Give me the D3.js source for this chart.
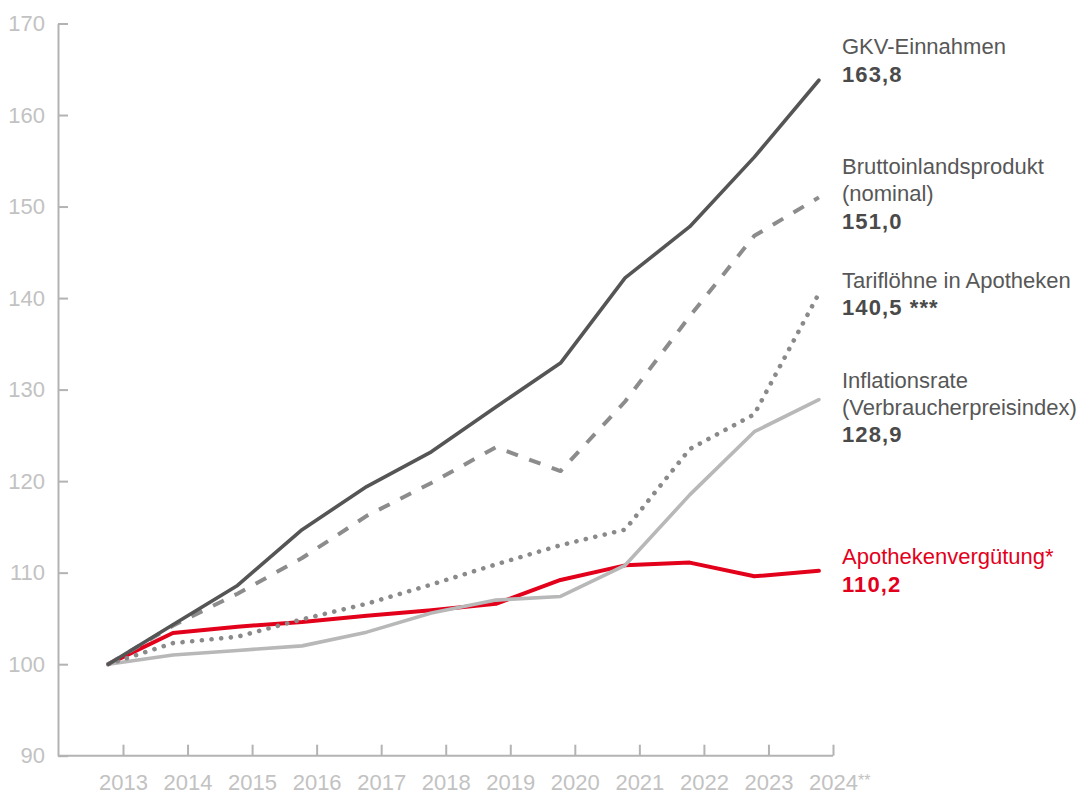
<!DOCTYPE html>
<html lang="de">
<head>
<meta charset="utf-8">
<title>Entwicklung im Vergleich 2013–2024 (Index 2013 = 100)</title>
<script src="https://cdn.jsdelivr.net/npm/d3@7/dist/d3.min.js"></script>
<style>
  html, body { margin: 0; padding: 0; background: #ffffff; }
  svg { display: block; font-family: "Liberation Sans", Arial, Helvetica, sans-serif; }
</style>
</head>
<body>
<svg id="chart" width="1083" height="795"></svg>
<script>
// Jahre und Beschriftungen der x-Achse
const years = [2013, 2014, 2015, 2016, 2017, 2018, 2019, 2020, 2021, 2022, 2023, 2024];
const yearNotes = ["", "", "", "", "", "", "", "", "", "", "", "**"];
const yTicks = [90, 100, 110, 120, 130, 140, 150, 160, 170];

// Indexwerte (2013 = 100)
const gkvEinnahmen   = [100, 104.3, 108.6, 114.7, 119.4, 123.2, 128.1, 132.9, 142.2, 147.8, 155.4, 163.8];
const bip            = [100, 104.2, 107.7, 111.6, 116.2, 119.8, 123.7, 121.1, 128.7, 138.0, 146.8, 151.0];
const tarifloehne    = [100, 102.3, 103.0, 104.9, 106.6, 108.7, 110.9, 113.0, 114.7, 123.5, 127.3, 140.5];
const inflation      = [100, 101.0, 101.5, 102.0, 103.5, 105.6, 107.0, 107.4, 110.8, 118.5, 125.4, 128.9];
const apotheken      = [100, 103.4, 104.1, 104.6, 105.3, 105.9, 106.6, 109.2, 110.8, 111.1, 109.6, 110.2];

// Serienbeschriftungen rechts
const seriesNames = [
  ["GKV-Einnahmen"],
  ["Bruttoinlandsprodukt", "(nominal)"],
  ["Tariflöhne in Apotheken"],
  ["Inflationsrate", "(Verbraucherpreisindex)"],
  ["Apothekenvergütung*"]
];
const seriesValueSuffix = ["", "", " ***", "", ""];
const seriesValues = [gkvEinnahmen, bip, tarifloehne, inflation, apotheken];

const fmt = v => d3.format(".1f")(v).replace(".", ",");

const svg = d3.select("#chart");

// Skalen
const x = d3.scaleLinear().domain([2013, 2024]).range([108.3, 818.9]);
const xTick = d3.scaleLinear().domain([2013, 2024]).range([123, 833]);
const y = d3.scaleLinear().domain([90, 170]).range([755.7, 23.5]);

const axisColor = "#b3b3b3";
const tickTextColor = "#c2c2c2";

// y-Achse
const yAxis = svg.append("g")
  .attr("transform", "translate(58,0)")
  .call(d3.axisLeft(y).tickValues(yTicks).tickSizeInner(-10).tickSizeOuter(0).tickPadding(13));
yAxis.selectAll("path, line").attr("stroke", axisColor).attr("stroke-width", 2);
yAxis.selectAll("text")
  .attr("fill", tickTextColor)
  .style("font-size", "22px")
  .style("font-family", "'Liberation Sans', Arial, sans-serif");

// x-Achse
const xAxis = svg.append("g")
  .attr("transform", `translate(0,${y(90)})`)
  .call(d3.axisBottom(xTick).tickValues(years).tickFormat(d3.format("d"))
    .tickSizeInner(-11).tickSizeOuter(0).tickPadding(19));
xAxis.select(".domain").attr("d", `M58,0H${xTick(2024)}`);
xAxis.selectAll("path, line").attr("stroke", axisColor).attr("stroke-width", 2);
xAxis.selectAll("text")
  .attr("fill", tickTextColor)
  .style("font-size", "22px")
  .style("font-family", "'Liberation Sans', Arial, sans-serif");

// Fußnotenzeichen an den Jahresbeschriftungen
xAxis.selectAll(".tick").each(function(d) {
  const note = yearNotes[years.indexOf(d)];
  if (!note) return;
  const t = d3.select(this).select("text");
  const w = t.node().getComputedTextLength();
  d3.select(this).append("text")
    .attr("x", w / 2)
    .attr("y", t.attr("y"))
    .attr("dy", t.attr("dy"))
    .attr("fill", tickTextColor)
    .attr("text-anchor", "start")
    .style("font-size", "16px")
    .style("font-family", "'Liberation Sans', Arial, sans-serif")
    .text(note);
});

// Linien
const line = d3.line()
  .x((d, i) => x(years[i]))
  .y(d => y(d));

const styles = [
  { data: apotheken,    stroke: "#e3001b", width: 4,   dash: null,      cap: "round" },
  { data: inflation,    stroke: "#b8b8b8", width: 3.6, dash: null,      cap: "round" },
  { data: tarifloehne,  stroke: "#8a8a8a", width: 4.6, dash: "0.1,9.6", cap: "round" },
  { data: bip,          stroke: "#8c8c8c", width: 4,   dash: "12,12",   cap: "butt" },
  { data: gkvEinnahmen, stroke: "#555555", width: 3.6, dash: null,      cap: "round" }
];

svg.append("g").selectAll("path")
  .data(styles)
  .join("path")
  .attr("d", s => line(s.data))
  .attr("fill", "none")
  .attr("stroke", s => s.stroke)
  .attr("stroke-width", s => s.width)
  .attr("stroke-linejoin", "round")
  .attr("stroke-linecap", s => s.cap)
  .attr("stroke-dasharray", s => s.dash);

// Beschriftungen rechts
const labelX = 842;
const labelTops = [54.3, 174.3, 287.7, 388, 564.3];
const labelColors = ["#575757", "#575757", "#575757", "#575757", "#e3001b"];
const valueColors = ["#4a4a4a", "#4a4a4a", "#4a4a4a", "#4a4a4a", "#e3001b"];
const lineGap = 26.8;

const labels = svg.append("g");
seriesNames.forEach((names, k) => {
  const g = labels.append("g");
  names.forEach((n, j) => {
    g.append("text")
      .attr("x", labelX)
      .attr("y", labelTops[k] + j * lineGap)
      .attr("fill", labelColors[k])
      .style("font-size", "22px")
      .text(n);
  });
  const vals = seriesValues[k];
  g.append("text")
    .attr("x", labelX)
    .attr("y", labelTops[k] + names.length * lineGap + 0.6)
    .attr("fill", valueColors[k])
    .style("font-size", "22px")
    .style("font-weight", "bold")
    .style("letter-spacing", "1.1px")
    .text(fmt(vals[vals.length - 1]) + seriesValueSuffix[k]);
});
</script>
</body>
</html>
